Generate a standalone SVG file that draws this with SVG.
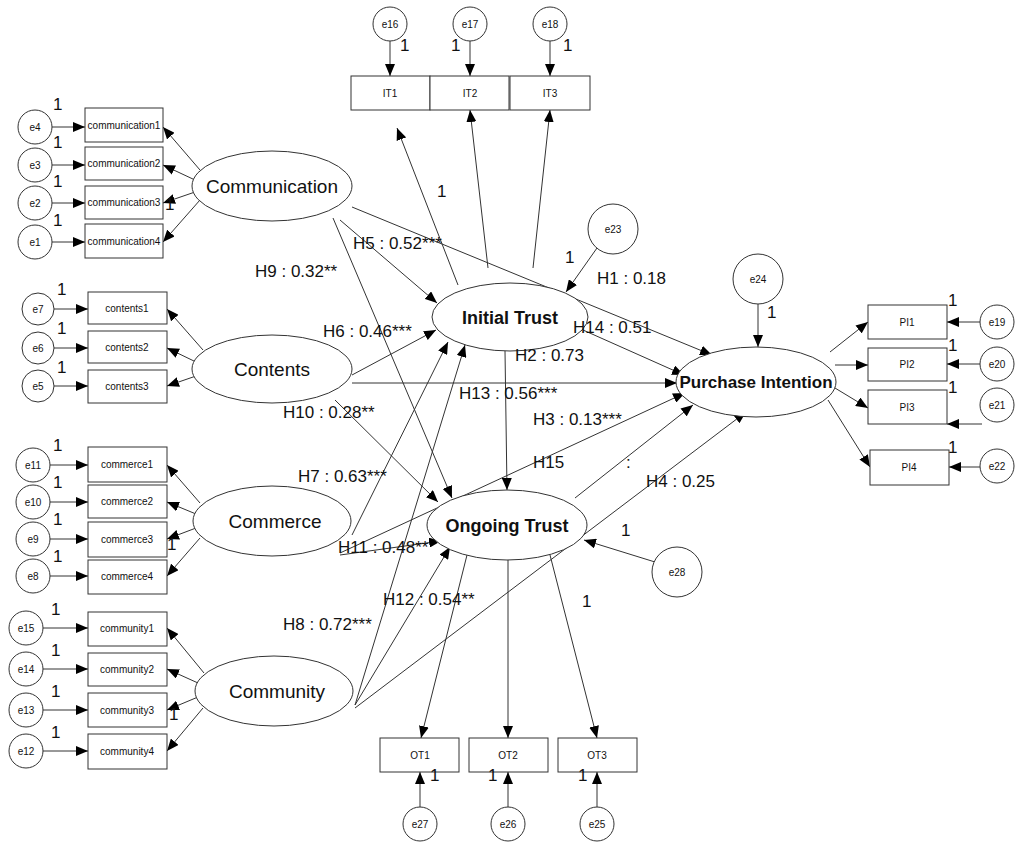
<svg xmlns="http://www.w3.org/2000/svg" width="1024" height="848" viewBox="0 0 1024 848">
<style>
rect,circle,ellipse{fill:#fff;stroke:#333;stroke-width:1}
line{stroke:#333;stroke-width:1}
.a{marker-end:url(#ah)}
text{font-family:"Liberation Sans",Arial,sans-serif;fill:#111}
.s{font-size:10px;text-anchor:middle}
.l{font-size:17px}
.n{font-size:19px;text-anchor:middle}
.b{font-size:18px;font-weight:bold;text-anchor:middle}
</style>
<defs><marker id="ah" markerWidth="12" markerHeight="10" refX="12" refY="5" orient="auto" markerUnits="userSpaceOnUse"><path d="M0,0L12,5L0,10Z" fill="#000"/></marker></defs>
<rect width="1024" height="848" style="fill:#fff;stroke:none"/>
<g id="connectors">
<line class="a" x1="52" y1="127" x2="85" y2="127"/><line class="a" x1="52" y1="165" x2="85" y2="165"/><line class="a" x1="52" y1="203" x2="85" y2="203"/><line class="a" x1="52" y1="242" x2="85" y2="242"/>
<line class="a" x1="54" y1="309" x2="88" y2="309"/><line class="a" x1="54" y1="348" x2="88" y2="348"/><line class="a" x1="54" y1="386" x2="88" y2="386"/>
<line class="a" x1="49" y1="465" x2="88" y2="465"/><line class="a" x1="49" y1="502" x2="88" y2="502"/><line class="a" x1="49" y1="539" x2="88" y2="539"/><line class="a" x1="49" y1="576" x2="88" y2="576"/>
<line class="a" x1="42" y1="628" x2="88" y2="628"/><line class="a" x1="42" y1="669" x2="88" y2="669"/><line class="a" x1="42" y1="710" x2="88" y2="710"/><line class="a" x1="42" y1="751" x2="88" y2="751"/>
<line class="a" x1="200" y1="170" x2="163" y2="127"/><line class="a" x1="195" y1="180" x2="163" y2="165"/><line class="a" x1="195" y1="192" x2="163" y2="203"/><line class="a" x1="200" y1="200" x2="163" y2="242"/>
<line class="a" x1="203" y1="350" x2="167" y2="309"/><line class="a" x1="196" y1="362" x2="167" y2="348"/><line class="a" x1="196" y1="376" x2="167" y2="386"/>
<line class="a" x1="200" y1="503" x2="167" y2="465"/><line class="a" x1="196" y1="514" x2="167" y2="502"/><line class="a" x1="196" y1="528" x2="167" y2="539"/><line class="a" x1="200" y1="538" x2="167" y2="576"/>
<line class="a" x1="204" y1="673" x2="167" y2="628"/><line class="a" x1="198" y1="683" x2="167" y2="669"/><line class="a" x1="198" y1="697" x2="167" y2="710"/><line class="a" x1="203" y1="708" x2="167" y2="751"/>
<line class="a" x1="390" y1="41" x2="390" y2="76"/><line class="a" x1="470" y1="41" x2="470" y2="76"/><line class="a" x1="550" y1="41" x2="550" y2="76"/>
<line class="a" x1="458" y1="285" x2="397" y2="128"/><line class="a" x1="488" y1="268" x2="470" y2="110"/><line class="a" x1="533" y1="268" x2="550" y2="110"/>
<line class="a" x1="340" y1="220" x2="437" y2="303"/>
<line class="a" x1="352" y1="207" x2="712" y2="355"/>
<line class="a" x1="333" y1="218" x2="452" y2="498"/>
<line class="a" x1="352" y1="375" x2="436" y2="330"/>
<line class="a" x1="352" y1="383" x2="677" y2="383"/>
<line class="a" x1="335" y1="400" x2="438" y2="502"/>
<line class="a" x1="352" y1="535" x2="448" y2="342"/>
<line class="a" x1="340" y1="553" x2="685" y2="393"/>
<line class="a" x1="340" y1="555" x2="441" y2="541"/>
<line class="a" x1="355" y1="705" x2="465" y2="345"/>
<line class="a" x1="355" y1="705" x2="450" y2="547"/>
<line class="a" x1="355" y1="708" x2="746" y2="412"/>
<line class="a" x1="505" y1="351" x2="507" y2="490"/>
<line class="a" x1="583" y1="330" x2="684" y2="375"/>
<line class="a" x1="575" y1="498" x2="693" y2="405"/>
<line class="a" x1="597" y1="248" x2="566" y2="292"/>
<line class="a" x1="758" y1="304" x2="758" y2="347"/>
<line class="a" x1="655" y1="562" x2="584" y2="540"/>
<line class="a" x1="467" y1="555" x2="421" y2="738"/><line class="a" x1="508" y1="560" x2="508" y2="738"/><line class="a" x1="550" y1="555" x2="597" y2="738"/>
<line class="a" x1="420" y1="807" x2="420" y2="772"/><line class="a" x1="508" y1="807" x2="508" y2="772"/><line class="a" x1="597" y1="807" x2="597" y2="772"/>
<line class="a" x1="830" y1="352" x2="868" y2="322"/><line class="a" x1="835" y1="365" x2="868" y2="365"/><line class="a" x1="830" y1="385" x2="868" y2="408"/><line class="a" x1="828" y1="400" x2="870" y2="467"/>
<line class="a" x1="980" y1="322" x2="947" y2="322"/><line class="a" x1="980" y1="364" x2="947" y2="364"/><line class="a" x1="982" y1="424" x2="947" y2="424"/><line class="a" x1="980" y1="467" x2="949" y2="467"/>
</g>
<g id="e1-e15">
<circle cx="35" cy="127" r="17"/><text class="s" x="35" y="131">e4</text>
<circle cx="35" cy="165" r="17"/><text class="s" x="35" y="169">e3</text>
<circle cx="35" cy="203" r="17"/><text class="s" x="35" y="207">e2</text>
<circle cx="35" cy="242" r="17"/><text class="s" x="35" y="246">e1</text>
<circle cx="38" cy="309" r="16"/><text class="s" x="38" y="313">e7</text>
<circle cx="38" cy="348" r="16"/><text class="s" x="38" y="352">e6</text>
<circle cx="38" cy="386" r="16"/><text class="s" x="38" y="390">e5</text>
<circle cx="33" cy="465" r="17"/><text class="s" x="33" y="469">e11</text>
<circle cx="33" cy="502" r="17"/><text class="s" x="33" y="506">e10</text>
<circle cx="33" cy="539" r="17"/><text class="s" x="33" y="543">e9</text>
<circle cx="33" cy="576" r="17"/><text class="s" x="33" y="580">e8</text>
<circle cx="26" cy="628" r="17"/><text class="s" x="26" y="632">e15</text>
<circle cx="26" cy="669" r="17"/><text class="s" x="26" y="673">e14</text>
<circle cx="26" cy="710" r="17"/><text class="s" x="26" y="714">e13</text>
<circle cx="26" cy="751" r="17"/><text class="s" x="26" y="755">e12</text>
</g>
<g id="indicators-left">
<rect x="85" y="108" width="78" height="34"/><text class="s" x="124" y="129">communication1</text>
<rect x="85" y="147" width="78" height="33"/><text class="s" x="124" y="167">communication2</text>
<rect x="85" y="186" width="78" height="33"/><text class="s" x="124" y="206">communication3</text>
<rect x="85" y="224" width="78" height="34"/><text class="s" x="124" y="245">communication4</text>
<rect x="88" y="292" width="79" height="32"/><text class="s" x="127" y="312">contents1</text>
<rect x="88" y="331" width="79" height="32"/><text class="s" x="127" y="351">contents2</text>
<rect x="88" y="370" width="79" height="33"/><text class="s" x="127" y="390">contents3</text>
<rect x="88" y="447" width="79" height="35"/><text class="s" x="127" y="468">commerce1</text>
<rect x="88" y="485" width="79" height="33"/><text class="s" x="127" y="505">commerce2</text>
<rect x="88" y="522" width="79" height="35"/><text class="s" x="127" y="543">commerce3</text>
<rect x="88" y="560" width="79" height="34"/><text class="s" x="127" y="580">commerce4</text>
<rect x="88" y="612" width="79" height="34"/><text class="s" x="127" y="632">community1</text>
<rect x="88" y="653" width="79" height="33"/><text class="s" x="127" y="673">community2</text>
<rect x="88" y="693" width="79" height="34"/><text class="s" x="127" y="714">community3</text>
<rect x="88" y="734" width="79" height="35"/><text class="s" x="127" y="755">community4</text>
</g>
<g id="communication"><ellipse cx="272" cy="186" rx="80" ry="35"/><text class="n" x="272" y="193">Communication</text></g>
<g id="contents"><ellipse cx="272" cy="369" rx="80" ry="34"/><text class="n" x="272" y="376">Contents</text></g>
<g id="commerce"><ellipse cx="272" cy="521" rx="79" ry="35"/><text class="n" x="275" y="528">Commerce</text></g>
<g id="community"><ellipse cx="274" cy="691" rx="79" ry="35"/><text class="n" x="277" y="698">Community</text></g>
<g id="initial-trust"><ellipse cx="510" cy="317" rx="78" ry="34"/><text class="b" x="510" y="324">Initial Trust</text></g>
<g id="ongoing-trust"><ellipse cx="507" cy="525" rx="80" ry="35"/><text class="b" x="507" y="532">Ongoing Trust</text></g>
<g id="purchase-intention"><ellipse cx="756" cy="382" rx="80" ry="35"/><text class="b" x="756" y="388" style="font-size:17px">Purchase Intention</text></g>
<g id="it-indicators">
<rect x="351" y="76" width="79" height="34"/><text class="s" x="390" y="97">IT1</text>
<rect x="430" y="76" width="79" height="34"/><text class="s" x="470" y="97">IT2</text>
<rect x="510" y="76" width="80" height="34"/><text class="s" x="550" y="97">IT3</text>
<circle cx="390" cy="24" r="17"/><text class="s" x="390" y="28">e16</text>
<circle cx="470" cy="24" r="17"/><text class="s" x="470" y="28">e17</text>
<circle cx="550" cy="24" r="17"/><text class="s" x="550" y="28">e18</text>
</g>
<g id="ot-indicators">
<rect x="380" y="738" width="79" height="34"/><text class="s" x="420" y="759">OT1</text>
<rect x="469" y="738" width="79" height="34"/><text class="s" x="508" y="759">OT2</text>
<rect x="558" y="738" width="79" height="34"/><text class="s" x="597" y="759">OT3</text>
<circle cx="420" cy="824" r="17"/><text class="s" x="420" y="828">e27</text>
<circle cx="508" cy="824" r="17"/><text class="s" x="508" y="828">e26</text>
<circle cx="597" cy="824" r="17"/><text class="s" x="597" y="828">e25</text>
</g>
<g id="pi-indicators">
<rect x="868" y="305" width="79" height="34"/><text class="s" x="907" y="326">PI1</text>
<rect x="868" y="348" width="79" height="33"/><text class="s" x="907" y="368">PI2</text>
<rect x="868" y="390" width="79" height="34"/><text class="s" x="907" y="411">PI3</text>
<rect x="870" y="450" width="79" height="35"/><text class="s" x="909" y="471">PI4</text>
<circle cx="997" cy="322" r="17"/><text class="s" x="997" y="326">e19</text>
<circle cx="997" cy="364" r="17"/><text class="s" x="997" y="368">e20</text>
<circle cx="997" cy="405" r="17"/><text class="s" x="997" y="409">e21</text>
<circle cx="997" cy="466" r="17"/><text class="s" x="997" y="470">e22</text>
</g>
<g id="disturbances">
<circle cx="613" cy="229" r="25"/><text class="s" x="613" y="233">e23</text>
<circle cx="758" cy="279" r="25"/><text class="s" x="758" y="283">e24</text>
<circle cx="677" cy="572" r="25"/><text class="s" x="677" y="576">e28</text>
</g>
<g id="labels" class="l">
<text x="353" y="249">H5 : 0.52***</text>
<text x="255" y="277">H9 : 0.32**</text>
<text x="323" y="337">H6 : 0.46***</text>
<text x="283" y="418">H10 : 0.28**</text>
<text x="298" y="482">H7 : 0.63***</text>
<text x="338" y="553">H11 : 0.48**</text>
<text x="383" y="605">H12 : 0.54**</text>
<text x="283" y="630">H8 : 0.72***</text>
<text x="597" y="284">H1 : 0.18</text>
<text x="573" y="333">H14 : 0.51</text>
<text x="515" y="361">H2 : 0.73</text>
<text x="459" y="399">H13 : 0.56***</text>
<text x="533" y="425">H3 : 0.13***</text>
<text x="533" y="468">H15</text>
<text x="626" y="468">:</text>
<text x="646" y="487">H4 : 0.25</text>
<text x="53" y="110">1</text><text x="53" y="148">1</text><text x="53" y="187">1</text><text x="53" y="226">1</text>
<text x="57" y="295">1</text><text x="57" y="334">1</text><text x="57" y="373">1</text>
<text x="53" y="451">1</text><text x="53" y="488">1</text><text x="53" y="525">1</text><text x="53" y="562">1</text>
<text x="51" y="615">1</text><text x="51" y="656">1</text><text x="51" y="697">1</text><text x="51" y="738">1</text>
<text x="165" y="210">1</text><text x="167" y="550">1</text><text x="169" y="720">1</text>
<text x="400" y="51">1</text><text x="451" y="51">1</text><text x="563" y="51">1</text>
<text x="437" y="197">1</text><text x="565" y="263">1</text><text x="767" y="318">1</text>
<text x="948" y="306">1</text><text x="948" y="351">1</text><text x="948" y="393">1</text><text x="948" y="453">1</text>
<text x="621" y="536">1</text><text x="582" y="607">1</text>
<text x="430" y="781">1</text><text x="488" y="781">1</text><text x="578" y="781">1</text>
</g>
</svg>
